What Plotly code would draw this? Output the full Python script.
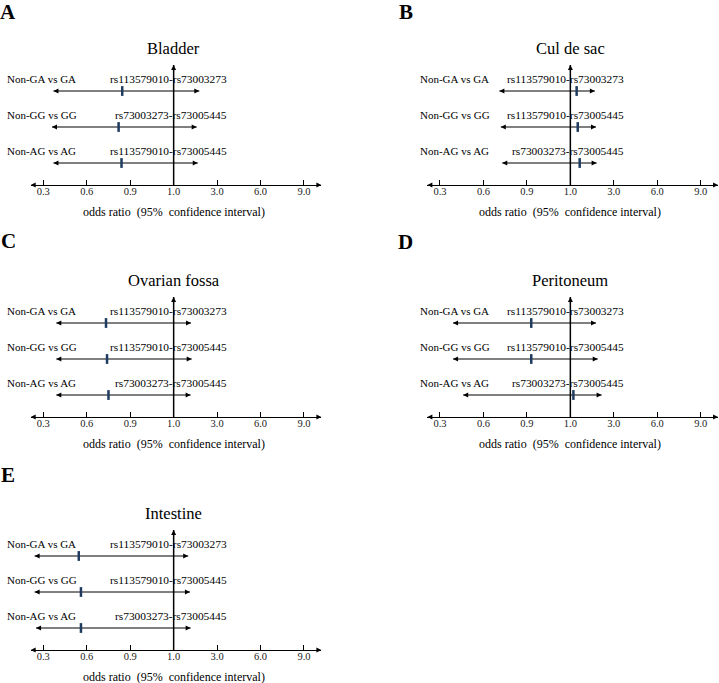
import numpy as np
import plotly.graph_objects as go

# ---------------- data ----------------
tick_values = [0.3, 0.6, 0.9, 1.0, 3.0, 6.0, 9.0]
tick_labels = ["0.3", "0.6", "0.9", "1.0", "3.0", "6.0", "9.0"]
ref_value = 1.0

comparisons = ["Non-GA vs GA", "Non-GG vs GG", "Non-AG vs AG"]
panel_letters = ["A", "B", "C", "D", "E"]
sites = ["Bladder", "Cul de sac", "Ovarian fossa", "Peritoneum", "Intestine"]

snp_bladder = ["rs113579010-rs73003273", "rs73003273-rs73005445", "rs113579010-rs73005445"]
snp_culdesac = ["rs113579010-rs73003273", "rs113579010-rs73005445", "rs73003273-rs73005445"]
snp_ovarian = ["rs113579010-rs73003273", "rs113579010-rs73005445", "rs73003273-rs73005445"]
snp_peritoneum = ["rs113579010-rs73003273", "rs113579010-rs73005445", "rs73003273-rs73005445"]
snp_intestine = ["rs113579010-rs73003273", "rs113579010-rs73005445", "rs73003273-rs73005445"]

or_bladder = [0.845, 0.82, 0.84]
lo_bladder = [0.37, 0.36, 0.37]
hi_bladder = [2.18, 2.06, 2.11]

or_culdesac = [1.29, 1.34, 1.43]
lo_culdesac = [0.71, 0.72, 0.73]
hi_culdesac = [2.13, 2.18, 2.21]

or_ovarian = [0.733, 0.74, 0.75]
lo_ovarian = [0.39, 0.39, 0.39]
hi_ovarian = [1.80, 1.83, 1.78]

or_peritoneum = [0.91, 0.91, 1.14]
lo_peritoneum = [0.39, 0.39, 0.46]
hi_peritoneum = [2.18, 2.26, 2.44]

or_intestine = [0.545, 0.56, 0.56]
lo_intestine = [0.24, 0.24, 0.25]
hi_intestine = [1.67, 1.75, 1.78]

panels = [
    (snp_bladder, or_bladder, lo_bladder, hi_bladder),
    (snp_culdesac, or_culdesac, lo_culdesac, hi_culdesac),
    (snp_ovarian, or_ovarian, lo_ovarian, hi_ovarian),
    (snp_peritoneum, or_peritoneum, lo_peritoneum, hi_peritoneum),
    (snp_intestine, or_intestine, lo_intestine, hi_intestine),
]

# ---------------- scale (evenly spaced labelled ticks) ----------------
tick_pos = list(range(len(tick_values)))
scale_vals = [0.0] + tick_values
scale_pos = [-1.0] + tick_pos


def to_pos(v):
    return np.interp(np.asarray(v, dtype=float), scale_vals, scale_pos)


# ---------------- geometry ----------------
W, H = 719, 683
FONT = "Liberation Serif"
UX = 43.45           # px per tick step
UY = 36.0            # px per row
col_x0 = [43.3, 440.0]   # pixel of first tick per column
row_axis_px = [185, 417, 650]
label_left_px = [5, 418]
letter_px = [(8, 12), (406, 12), (8, 241), (405, 242), (8, 475)]
grid = [(0, 0), (1, 0), (0, 1), (1, 1), (0, 2)]
XMIN, XMAX = -0.29, 6.40
ROWS = [3, 2, 1]
Y0 = 1 - 22 / UY
DOM_H = 125
VTOP = Y0 + 120 / UY


def px_x(px):
    return px / W


def px_y(py):
    return 1 - py / H


fig = go.Figure()
annotations = []
layout = {}

for i, ((snps, ors, los, his), site, letter, (c, r)) in enumerate(
        zip(panels, sites, panel_letters, grid)):
    n = i + 1
    xa = "x" if n == 1 else f"x{n}"
    ya = "y" if n == 1 else f"y{n}"
    x0 = col_x0[c]
    axis_px = row_axis_px[r]

    layout[f"xaxis{'' if n == 1 else n}"] = dict(
        domain=[px_x(x0 + XMIN * UX), min(1.0, px_x(x0 + XMAX * UX))],
        range=[XMIN, XMAX], anchor=ya,
        tickmode="array", tickvals=tick_pos, ticktext=tick_labels,
        ticks="inside", ticklen=5, tickwidth=1.2, tickcolor="black",
        ticklabelstandoff=-4,
        showline=True, linecolor="black", linewidth=1.3,
        showgrid=False, zeroline=False, fixedrange=True,
        tickfont=dict(family=FONT, size=10.5, color="#222"),
    )
    layout[f"yaxis{'' if n == 1 else n}"] = dict(
        domain=[px_y(axis_px), px_y(axis_px - DOM_H)],
        range=[Y0, Y0 + DOM_H / UY], anchor=xa,
        visible=False, fixedrange=True,
    )

    lo_p = to_pos(los)
    hi_p = to_pos(his)
    or_p = to_pos(ors)

    # CI lines
    lx, ly = [], []
    for a, b, yy in zip(lo_p, hi_p, ROWS):
        lx += [a, b, None]
        ly += [yy, yy, None]
    fig.add_trace(go.Scatter(x=lx, y=ly, mode="lines", xaxis=xa, yaxis=ya,
                             line=dict(color="black", width=1), hoverinfo="skip",
                             showlegend=False))
    fig.add_trace(go.Scatter(x=lo_p, y=ROWS, mode="markers", xaxis=xa, yaxis=ya,
                             marker=dict(symbol="arrow-left", size=5, color="black"),
                             cliponaxis=False, showlegend=False, hoverinfo="skip"))
    fig.add_trace(go.Scatter(x=hi_p, y=ROWS, mode="markers", xaxis=xa, yaxis=ya,
                             marker=dict(symbol="arrow-right", size=5, color="black"),
                             cliponaxis=False, showlegend=False, hoverinfo="skip"))
    # point estimates
    fig.add_trace(go.Scatter(x=or_p, y=ROWS, mode="markers", xaxis=xa, yaxis=ya,
                             marker=dict(symbol="line-ns", size=7,
                                         line=dict(width=2.5, color="#1f3b60")),
                             cliponaxis=False, showlegend=False,
                             text=[f"OR {v}" for v in ors]))
    # reference vertical line at OR = 1
    rp = float(to_pos(ref_value))
    fig.add_trace(go.Scatter(x=[rp, rp], y=[Y0, VTOP], mode="lines", xaxis=xa, yaxis=ya,
                             line=dict(color="black", width=1.5), hoverinfo="skip",
                             showlegend=False))
    fig.add_trace(go.Scatter(x=[rp], y=[VTOP], mode="markers", xaxis=xa, yaxis=ya,
                             marker=dict(symbol="arrow-up", size=5, color="black"),
                             cliponaxis=False, showlegend=False, hoverinfo="skip"))
    # axis arrowheads
    fig.add_trace(go.Scatter(x=[XMIN, XMAX], y=[Y0, Y0], mode="markers", xaxis=xa, yaxis=ya,
                             marker=dict(symbol=["arrow-left", "arrow-right"], size=5,
                                         color="black"),
                             cliponaxis=False, showlegend=False, hoverinfo="skip"))

    # texts
    annotations.append(dict(text=site, xref=xa, x=rp, yref="paper",
                            y=px_y(axis_px - 137), showarrow=False,
                            font=dict(family=FONT, size=16.5, color="black"),
                            xanchor="center", yanchor="middle"))
    annotations.append(dict(text="odds ratio\u00a0\u00a0(95%\u00a0\u00a0confidence interval)",
                            xref=xa, x=rp, yref="paper", y=px_y(axis_px + 27),
                            showarrow=False, xanchor="center", yanchor="middle",
                            font=dict(family=FONT, size=12, color="black")))
    annotations.append(dict(text=f"<b>{letter}</b>", xref="paper",
                            x=px_x(letter_px[i][0]), yref="paper",
                            y=px_y(letter_px[i][1]), showarrow=False,
                            xanchor="center", yanchor="middle",
                            font=dict(family=FONT, size=21, color="black")))
    for comp, snp, yy in zip(comparisons, snps, ROWS):
        annotations.append(dict(text=comp, xref="paper", x=px_x(label_left_px[c]),
                                yref=ya, y=yy + 12.5 / UY, showarrow=False,
                                xanchor="left", yanchor="middle",
                                font=dict(family=FONT, size=11, color="black")))
        annotations.append(dict(text=snp, xref=xa, x=4.28, yref=ya, y=yy + 12.5 / UY,
                                showarrow=False, xanchor="right", yanchor="middle",
                                font=dict(family=FONT, size=11.4, color="black")))

fig.update_layout(
    width=W, height=H,
    margin=dict(l=0, r=0, t=0, b=0),
    paper_bgcolor="white", plot_bgcolor="white",
    showlegend=False,
    annotations=annotations,
    **layout,
)

fig.write_html("out.html", config={"displayModeBar": False},
               post_script="document.body.style.margin='0px';document.body.style.overflow='hidden';")
